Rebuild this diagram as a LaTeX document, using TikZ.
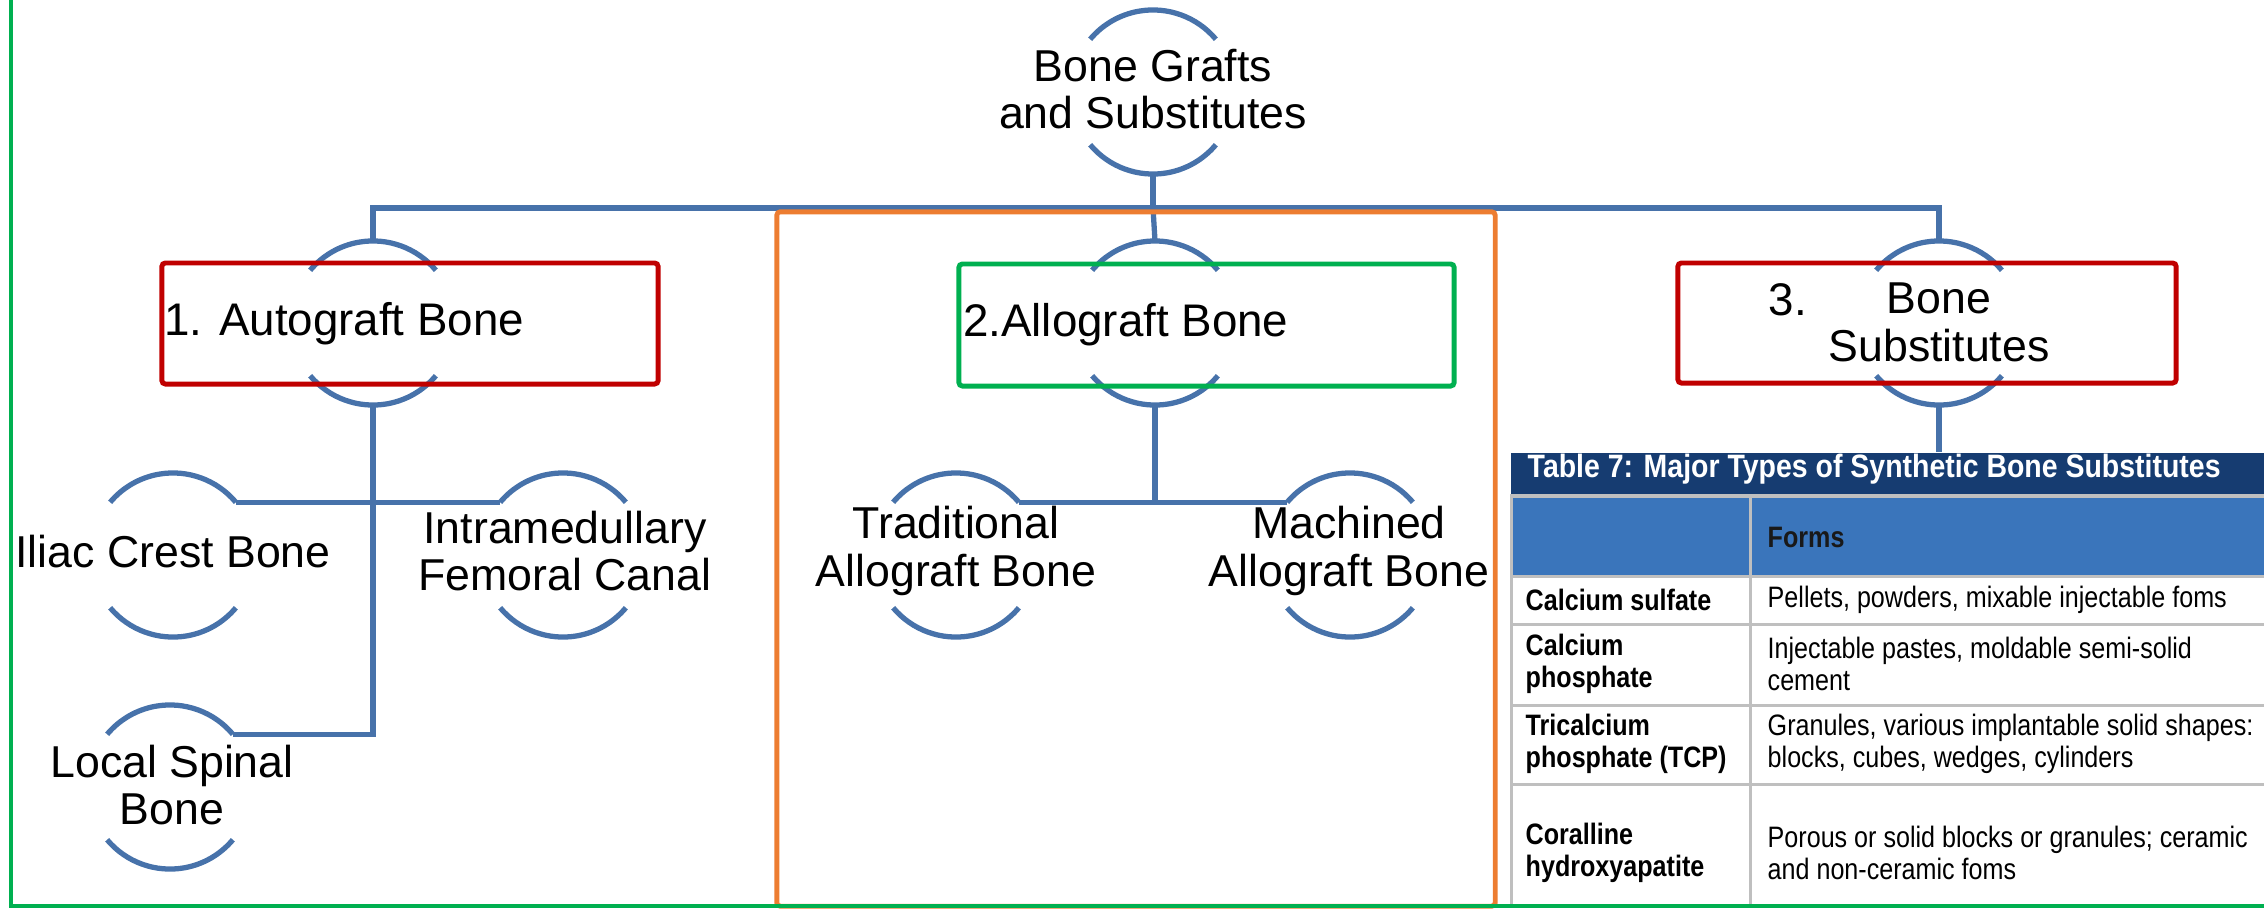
\documentclass[tikz,border=0pt]{standalone}
\usepackage{fontspec}
\setmainfont{Liberation Sans}
\newfontfamily\tblfont[FakeStretch=0.85]{Liberation Sans}
\newfontfamily\ttlfont[FakeStretch=0.88]{Liberation Sans}
\usetikzlibrary{positioning,calc}
\definecolor{linkblue}{RGB}{71,114,170}
\definecolor{boxred}{RGB}{192,0,0}
\definecolor{boxgreen}{RGB}{0,176,80}
\definecolor{boxorange}{RGB}{237,125,49}
\definecolor{ttlnavy}{RGB}{22,60,113}
\definecolor{hdrblue}{RGB}{58,117,187}
\definecolor{rulegray}{RGB}{191,191,191}
\tikzset{
  bubble/.style={circle,minimum size=1.64cm,inner sep=0pt,outer sep=0pt},
  lbl/.style={font=\fontsize{12.7}{13.6}\selectfont,align=center,inner sep=0pt},
  link/.style={draw=linkblue,line width=1.5pt},
  hlbox/.style={draw=#1,line width=1.4pt,inner sep=0pt,rounded corners=1pt},
  cell/.style={font=\tblfont\fontsize{8.4}{9.1}\selectfont,align=left,anchor=west,inner sep=0pt},
  cellhd/.style={cell,font=\tblfont\bfseries\fontsize{8.4}{9.1}\selectfont}
}
\newcommand{\bubblearcs}[1]{%
  \draw[link] (#1.40) arc[start angle=40,end angle=140,radius=0.82cm];
  \draw[link] (#1.220) arc[start angle=220,end angle=320,radius=0.82cm];}

\begin{document}
\begin{tikzpicture}[x=0.01cm,y=-0.01cm]
	\useasboundingbox (0,0) rectangle (2264,909);
	\node[bubble] (root) at (1153,92) {};
	\node[bubble] (auto) at (373,323) {};
	\node[bubble] (allo) at (1155,323) {};
	\node[bubble] (subst) at (1939,323) {};
	\node[bubble] (iliac) at (173,555) {};
	\node[bubble] (femoral) at (563,555) {};
	\node[bubble] (spinal) at (170,787) {};
	\node[bubble] (trad) at (956,555) {};
	\node[bubble] (mach) at (1350,555) {};
	\foreach \n in {root,auto,allo,subst,iliac,femoral,spinal,trad,mach}{
		\bubblearcs{\n}
	}

	\node[fill=ttlnavy,minimum width=7.54cm,minimum height=0.42cm,inner sep=0pt,anchor=north west] (ttl) at (1510,452) {};
	\fill[rulegray] (1510,494) rectangle (2264,907);
	\fill[hdrblue] (1513,498) rectangle (1749,575);
	\fill[hdrblue] (1752,498) rectangle (2264,575);
	\foreach \ya/\yb in {578/623,626/704,707/783,786/907}{
		\fill[white] (1513,\ya) rectangle (1749,\yb);
		\fill[white] (1752,\ya) rectangle (2264,\yb);
	}

	\coordinate (bus) at (1153,208);
	\draw[link] (root.south) -- (bus);
	\draw[link] (auto.north) |- (bus) -| (subst.north);
	\draw[link] (bus) -- (allo.north);
	\draw[link] (auto.south) |- (spinal.40);
	\draw[link] (iliac.40) -- (femoral.140);
	\draw[link] (allo.south) -- (allo.south |- trad.40);
	\draw[link] (trad.40) -- (mach.140);
	\draw[link] (subst.south) -- (subst.south |- ttl.north);

	\node[hlbox=boxorange,minimum width=7.18cm,minimum height=6.94cm] (allogrp) at (1136,559) {};
	\node[hlbox=boxred,minimum width=4.96cm,minimum height=1.21cm] (autobox) at (410,323.5) {};
	\node[hlbox=boxgreen,minimum width=4.95cm,minimum height=1.22cm] (allobox) at (1206.5,325) {};
	\node[hlbox=boxred,minimum width=4.98cm,minimum height=1.20cm] (substbox) at (1927,323) {};
	\draw[boxgreen,line width=0.9pt] (11,-5) -- (11,906) -- (2270,906);

	\node[lbl] (root-t) at (1153,89) {Bone Grafts\\and Substitutes};
	\node[lbl,anchor=west,font=\fontsize{13}{14}\selectfont] (auto-t) at ([xshift=0.04cm]autobox.west) {1. Autograft Bone};
	\node[lbl,anchor=west,font=\fontsize{13}{14}\selectfont] (allo-t) at ([xshift=0.06cm]allobox.west) {2.Allograft Bone};
	\node[lbl] (subst-t) at (1939,322) {Bone\\Substitutes};
	\node[lbl,font=\fontsize{13}{14}\selectfont] (subst-n) at (1788,300) {3.};
	\node[lbl] (iliac-t) at (173,552) {Iliac Crest Bone};
	\node[lbl] (femoral-t) at (565,551) {Intramedullary\\Femoral Canal};
	\node[lbl] (spinal-t) at (172,785) {Local Spinal\\Bone};
	\node[lbl] (trad-t) at (956,551) {Traditional\\Allograft Bone};
	\node[lbl] (mach-t) at (1349,551) {Machined\\Allograft Bone};

	\node[cellhd,text=white,font=\ttlfont\bfseries\fontsize{9.2}{10}\selectfont] (ttl-t) at (1527,469) {Table 7: Major Types of Synthetic Bone Substitutes};
	\node[cellhd,text=black!90] (hdr-t) at (1767,537) {Forms};
	\node[cellhd] (r1a) at (1525,600) {Calcium sulfate};
	\node[cell] (r1b) at (1767,600) {Pellets, powders, mixable injectable foms};
	\node[cellhd] (r2a) at (1525,664) {Calcium\\phosphate};
	\node[cell] (r2b) at (1767,664) {Injectable pastes, moldable semi-solid\\cement};
	\node[cellhd] (r3a) at (1525,744) {Tricalcium\\phosphate (TCP)};
	\node[cell] (r3b) at (1767,744) {Granules, various implantable solid shapes:\\blocks, cubes, wedges, cylinders};
	\node[cellhd] (r4a) at (1525,853) {Coralline\\hydroxyapatite};
	\node[cell] (r4b) at (1767,853) {Porous or solid blocks or granules; ceramic\\and non-ceramic foms};
\end{tikzpicture}
\end{document}
